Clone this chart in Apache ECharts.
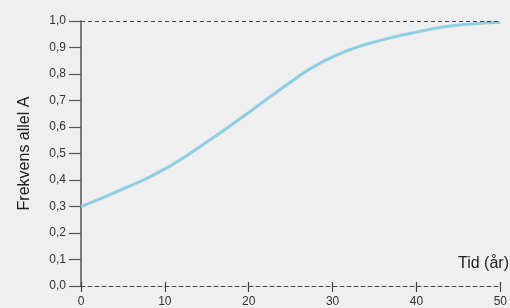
<!DOCTYPE html>
<html>
<head>
<meta charset="utf-8">
<script src="https://cdn.jsdelivr.net/npm/echarts@6/dist/echarts.min.js"></script>
<style>
  html, body { margin: 0; padding: 0; background: #efefef; }
  #chart { width: 510px; height: 308px; }
</style>
</head>
<body>
<div id="chart"></div>
<script>
  // data
  var years = [0, 2.5, 5, 7.5, 10, 12.5, 15, 17.5, 20, 22.5, 25, 27.5, 30, 32.5, 35, 37.5, 40, 42.5, 45, 47.5, 50];
  var freq = [0.30, 0.332, 0.366, 0.401, 0.442, 0.49, 0.543, 0.598, 0.655, 0.713, 0.77, 0.823, 0.865, 0.897, 0.921, 0.941, 0.958, 0.974, 0.985, 0.991, 0.995];
  var xTicks = [0, 10, 20, 30, 40, 50];
  var yTicks = [0, 0.1, 0.2, 0.3, 0.4, 0.5, 0.6, 0.7, 0.8, 0.9, 1.0];

  var points = years.map(function (y, i) { return [y, freq[i]]; });
  var fontFam = 'Liberation Sans, Arial, sans-serif';

  var myChart = echarts.init(document.getElementById('chart'));
  var option = {
    backgroundColor: '#efefef',
    animation: false,
    title: {
      text: 'Tid (år)',
      right: 1,
      top: 256,
      padding: 0,
      textStyle: { color: '#222', fontSize: 16, fontWeight: 'normal', fontFamily: fontFam }
    },
    grid: { left: 81, right: 4, top: 21, bottom: 22, containLabel: false },
    xAxis: [
      {
        type: 'value',
        min: xTicks[0],
        max: xTicks[xTicks.length - 1],
        interval: 10,
        axisLine: { lineStyle: { color: '#444', width: 1, type: [4, 3] } },
        axisTick: { show: true, length: 6, lineStyle: { color: '#444', width: 1.2 } },
        axisLabel: { color: '#333', fontSize: 12, margin: 10, fontFamily: fontFam },
        splitLine: { show: false }
      },
      {
        type: 'value',
        position: 'bottom',
        min: xTicks[0],
        max: xTicks[xTicks.length - 1],
        interval: 10,
        axisLine: { show: false },
        axisTick: { show: true, inside: true, length: 4, lineStyle: { color: '#444', width: 1.2 } },
        axisLabel: { show: false },
        splitLine: { show: false }
      }
    ],
    yAxis: {
      type: 'value',
      min: yTicks[0],
      max: yTicks[yTicks.length - 1],
      interval: 0.1,
      name: 'Frekvens allel A',
      nameLocation: 'middle',
      nameGap: 48,
      nameTextStyle: { color: '#222', fontSize: 16, fontFamily: fontFam },
      axisLine: { show: true, lineStyle: { color: '#555', width: 1.5 } },
      axisTick: { show: true, length: 12, lineStyle: { color: '#555', width: 1.2 } },
      axisLabel: {
        color: '#333', fontSize: 12, margin: 15, fontFamily: fontFam,
        formatter: function (v) { return v.toFixed(1).replace('.', ','); }
      },
      splitLine: { show: false }
    },
    series: [{
      type: 'line',
      data: points,
      smooth: 0.4,
      showSymbol: false,
      lineStyle: { color: '#8ecde2', width: 3 },
      markLine: {
        silent: true,
        symbol: 'none',
        label: { show: false },
        lineStyle: { color: '#444', width: 1, type: [4, 3] },
        data: [{ yAxis: 1 }]
      },
      z: 3
    }]
  };
  myChart.setOption(option);
</script>
</body>
</html>
